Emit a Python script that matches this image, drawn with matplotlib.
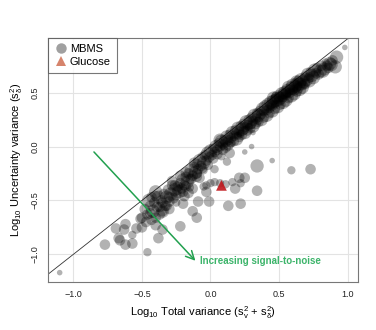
import matplotlib
matplotlib.use("Agg")
import matplotlib.pyplot as plt
from matplotlib.lines import Line2D
import numpy as np

plt.rcParams['font.family'] = ['Liberation Sans', 'DejaVu Sans']
plt.rcParams['mathtext.fontset'] = 'custom'
plt.rcParams['mathtext.rm'] = 'Liberation Sans'
plt.rcParams['mathtext.it'] = 'Liberation Sans:italic'

# ---- data: MBMS points (x = log10 total variance, y = log10 uncertainty variance, w = weight class)
band_x = [0.92, 0.91, 0.89, 0.87, 0.86, 0.84, 0.83, 0.81, 0.80, 0.78, 0.77, 0.76, 0.74, 0.73, 0.72, 0.71, 0.70,
          0.69, 0.68, 0.67, 0.66, 0.65, 0.64, 0.63, 0.62, 0.61, 0.60, 0.59, 0.58, 0.57, 0.56, 0.55, 0.54, 0.53,
          0.52, 0.51, 0.50, 0.49, 0.48, 0.47, 0.46, 0.45, 0.44, 0.43, 0.42, 0.41, 0.40,
          0.66, 0.63, 0.60, 0.58, 0.55, 0.53, 0.50, 0.47, 0.44, 0.62, 0.56, 0.52, 0.48, 0.64, 0.46, 0.07,
          0.39, 0.38, 0.37, 0.36, 0.35, 0.34, 0.33, 0.32, 0.31, 0.30, 0.29, 0.28, 0.27, 0.26, 0.25, 0.24,
          0.23, 0.22, 0.21, 0.20, 0.19, 0.18, 0.17, 0.16, 0.15, 0.14, 0.13, 0.12, 0.11, 0.10, 0.09, 0.08,
          0.07, 0.06, 0.05, 0.04, 0.03, 0.02, 0.01, 0.00,
          0.30, 0.25, 0.20, 0.15, 0.35, 0.10, 0.28, 0.22,
          -0.01, -0.02, -0.03, -0.04, -0.05, -0.06, -0.07, -0.08, -0.09, -0.10, -0.11, -0.12, -0.13, -0.14,
          -0.15, -0.16, -0.17, -0.18, -0.19, -0.20, -0.21, -0.22, -0.23, -0.24, -0.25, -0.26, -0.27, -0.28,
          -0.29, -0.30, -0.31, -0.32, -0.33, -0.34, -0.35, -0.36, -0.37, -0.38, -0.39, -0.40, -0.41, -0.42,
          -0.43, -0.44, -0.45, -0.46, -0.48, -0.50,
          -0.05, -0.10, -0.15, -0.20, -0.25, -0.30, -0.35, -0.18, -0.22, -0.12, -0.28, -0.40, -0.40,
          0.88, 0.85, 0.82, 0.79, 0.75, 0.72, 0.69, 0.67, 0.65, 0.63, 0.61, 0.59, 0.57, 0.55, 0.53, 0.51,
          0.49, 0.47, 0.45, 0.43, 0.41, 0.39, 0.37, 0.35, 0.33, 0.31, 0.29, 0.27, 0.25, 0.23, 0.21, 0.19,
          0.17, 0.15, 0.13, 0.11, 0.09, 0.05, 0.02, -0.02, -0.06, -0.10, -0.14, -0.18, -0.24, -0.32]
band_y = [0.83, 0.74, 0.80, 0.77, 0.73, 0.78, 0.72, 0.75, 0.70, 0.73, 0.68, 0.71, 0.66, 0.69, 0.64, 0.67, 0.62,
          0.65, 0.60, 0.57, 0.62, 0.58, 0.54, 0.60, 0.56, 0.52, 0.57, 0.54, 0.50, 0.55, 0.52, 0.48, 0.50, 0.46,
          0.49, 0.45, 0.42, 0.46, 0.43, 0.39, 0.42, 0.38, 0.41, 0.36, 0.39, 0.34, 0.37,
          0.59, 0.56, 0.53, 0.53, 0.50, 0.49, 0.46, 0.44, 0.39, 0.60, 0.49, 0.45, 0.46, 0.61, 0.45, 0.06,
          0.33, 0.35, 0.30, 0.33, 0.29, 0.31, 0.26, 0.29, 0.24, 0.27, 0.22, 0.25, 0.20, 0.23, 0.18, 0.21,
          0.16, 0.19, 0.14, 0.17, 0.12, 0.15, 0.10, 0.13, 0.08, 0.11, 0.06, 0.09, 0.04, 0.06, 0.02, 0.05,
          0.00, 0.03, -0.03, 0.00, -0.05, -0.02, -0.08, -0.04,
          0.20, 0.15, 0.10, 0.03, 0.24, 0.00, 0.18, 0.12,
          -0.10, -0.06, -0.13, -0.08, -0.15, -0.10, -0.18, -0.13, -0.21, -0.16, -0.24, -0.19, -0.27, -0.22,
          -0.30, -0.25, -0.33, -0.28, -0.36, -0.31, -0.39, -0.34, -0.42, -0.37, -0.45, -0.40, -0.48, -0.36,
          -0.44, -0.51, -0.40, -0.47, -0.55, -0.44, -0.60, -0.50, -0.63, -0.47, -0.56, -0.66, -0.52, -0.60,
          -0.68, -0.55, -0.50, -0.63, -0.58, -0.66,
          -0.22, -0.28, -0.38, -0.42, -0.52, -0.58, -0.52, -0.24, -0.27, -0.15, -0.32, -0.46, -0.42,
          0.76, 0.75, 0.70, 0.67, 0.64, 0.61, 0.58, 0.55, 0.53, 0.51, 0.49, 0.47, 0.45, 0.43, 0.41, 0.39,
          0.37, 0.35, 0.33, 0.31, 0.29, 0.27, 0.25, 0.23, 0.21, 0.19, 0.17, 0.15, 0.13, 0.11, 0.09, 0.07,
          0.05, 0.04, 0.01, -0.01, -0.03, -0.07, -0.11, -0.17, -0.20, -0.25, -0.30, -0.37, -0.40, -0.55]
band_w = [4, 4, 3, 4, 3, 2, 4, 3, 4, 3, 3, 4, 4, 3, 3, 4, 4,
          3, 4, 3, 4, 4, 3, 4, 4, 3, 4, 4, 3, 4, 4, 3, 4, 3,
          4, 4, 3, 4, 4, 2, 4, 3, 4, 3, 4, 3, 4,
          3, 3, 3, 3, 3, 3, 3, 3, 3, 2, 2, 2, 3, 3, 4, 4,
          3, 4, 3, 3, 4, 3, 3, 4, 3, 3, 4, 3, 3, 4, 3, 3,
          4, 3, 3, 4, 3, 3, 3, 4, 3, 3, 3, 4, 3, 3, 3, 4,
          3, 3, 3, 4, 3, 3, 3, 4,
          2, 2, 2, 2, 2, 2, 2, 2,
          3, 4, 3, 3, 4, 3, 3, 4, 3, 3, 4, 3, 3, 4,
          3, 3, 4, 3, 3, 4, 3, 3, 4, 3, 3, 4, 3, 3,
          4, 3, 3, 4, 3, 3, 4, 3, 3, 4, 3, 3, 3, 4,
          3, 3, 4, 3, 3, 3,
          2, 3, 2, 3, 2, 3, 3, 3, 3, 3, 3, 3, 4,
          4, 3, 4, 3, 4, 4, 3, 4, 4, 3, 4, 4, 3, 4, 4, 3,
          4, 3, 4, 3, 4, 3, 4, 3, 3, 4, 3, 3, 4, 3, 3, 4,
          3, 3, 3, 3, 3, 3, 3, 3, 3, 3, 3, 3, 3, 3]

out_x = [-1.10, -0.77, -0.67, -0.69, -0.62, -0.63, -0.62, -0.66, -0.57, -0.57, -0.54, -0.50, -0.46, -0.38,
         -0.35, -0.22, -0.35, -0.20, -0.13, -0.10, -0.16, -0.09, -0.01, -0.03, 0.00, 0.03, -0.03, 0.07,
         0.11, 0.13, 0.16, 0.18, 0.21, 0.22, 0.25, 0.22, 0.34, 0.34, 0.45, 0.59, 0.73, 0.30, 0.25, 0.31,
         0.14, 0.12, 0.08, 0.03, -0.08, -0.05, -0.13, -0.19, -0.26, -0.30, -0.37, -0.43, -0.44, -0.47,
         -0.51, -0.40, 0.98]
out_y = [-1.17, -0.91, -0.85, -0.76, -0.72, -0.77, -0.91, -0.87, -0.82, -0.90, -0.76, -0.75, -0.98, -0.85,
         -0.77, -0.74, -0.60, -0.53, -0.60, -0.66, -0.43, -0.51, -0.51, -0.42, -0.34, -0.33, -0.36, -0.34,
         -0.35, -0.55, -0.33, -0.39, -0.29, -0.34, -0.29, -0.53, -0.18, -0.41, -0.13, -0.22, -0.21, 0.00,
         -0.05, 0.13, -0.06, -0.14, -0.09, -0.21, -0.29, -0.37, -0.39, -0.46, -0.36, -0.47, -0.56, -0.47,
         -0.62, -0.70, -0.67, -0.73, 0.92]
out_w = [1, 3, 3, 3, 3, 3, 3, 3, 2, 3, 3, 3, 2, 3,
         3, 3, 3, 3, 3, 3, 3, 3, 3, 3, 2, 2, 2, 2,
         2, 3, 2, 3, 3, 2, 3, 3, 4, 3, 1, 2, 3, 1, 1, 1,
         3, 2, 2, 2, 3, 2, 3, 3, 3, 3, 3, 3, 3, 3,
         3, 3, 1]

glucose_x = [0.08]
glucose_y = [-0.36]

ticks = [-1.0, -0.5, 0.0, 0.5, 1.0]
yticks = [-1.0, -0.5, 0.0, 0.5]
arrow_start = (-0.85, -0.05)
arrow_end = (-0.11, -1.06)
note_text = "Increasing signal-to-noise"

# ---- figure
fig = plt.figure(figsize=(3.76, 3.30), dpi=100)
ax = fig.add_axes([0.127, 0.1464, 0.824, 0.7376])

size_map = {1: 16, 2: 36, 3: 58, 4: 92}
ax.set_xlim(-1.187, 1.073)
ax.set_ylim(-1.254, 1.005)

ax.set_xticks(ticks)
ax.set_yticks(yticks)
ax.grid(True, color='#e3e3e3', lw=0.8, zorder=0)
ax.set_axisbelow(True)

ax.plot([-2, 2], [-2, 2], color='#333333', lw=0.6, zorder=1)

xs = band_x + out_x
ys = band_y + out_y
ws = band_w + out_w
ax.scatter(xs, ys, s=[size_map[w] for w in ws], color='black', alpha=0.3,
           edgecolors='none', zorder=2)
ax.scatter(glucose_x, glucose_y, s=60, marker='^', color='#c0161b', alpha=0.9,
           edgecolors='none', zorder=3)

ax.annotate('', xy=arrow_end, xytext=arrow_start,
            arrowprops=dict(arrowstyle='->,head_length=0.6,head_width=0.3',
                            color='#22a04f', lw=1.1, shrinkA=0, shrinkB=0), zorder=4)
ax.text(arrow_end[0] + 0.035, arrow_end[1] - 0.005, note_text, color='#3cb46a',
        fontsize=7, fontweight='bold', ha='left', va='center', zorder=4)

for sp in ax.spines.values():
    sp.set_color('#777777')
    sp.set_linewidth(0.8)

ax.tick_params(length=0, pad=6, labelsize=6.5, colors='#222222')
ax.set_xticklabels(['\u22121.0', '\u22120.5', '0.0', '0.5', '1.0'])
ax.set_yticklabels(['\u22121.0', '\u22120.5', '0.0', '0.5'], rotation=90, va='center')

ax.set_xlabel(r'Log$\mathregular{_{10}}$ Total variance (s$\mathregular{_v^2}$ + s$\mathregular{_\delta^2}$)',
              fontsize=8, labelpad=4)
ax.set_ylabel(r'Log$\mathregular{_{10}}$ Uncertainty variance (s$\mathregular{_\delta^2}$)',
              fontsize=8, labelpad=4)

handles = [Line2D([], [], marker='o', ls='none', color='#a0a0a0', markersize=7.5, markeredgewidth=0),
           Line2D([], [], marker='^', ls='none', color='#d6846c', markersize=7.5, markeredgewidth=0)]
leg = ax.legend(handles, ['MBMS', 'Glucose'], loc='upper left', fontsize=8, frameon=True,
                fancybox=False, borderaxespad=0, handletextpad=0.2, borderpad=0.5,
                labelspacing=0.3, handlelength=1.3)
leg.get_frame().set_edgecolor('#555555')
leg.get_frame().set_linewidth(0.8)

fig.savefig('out.png', dpi=100)
